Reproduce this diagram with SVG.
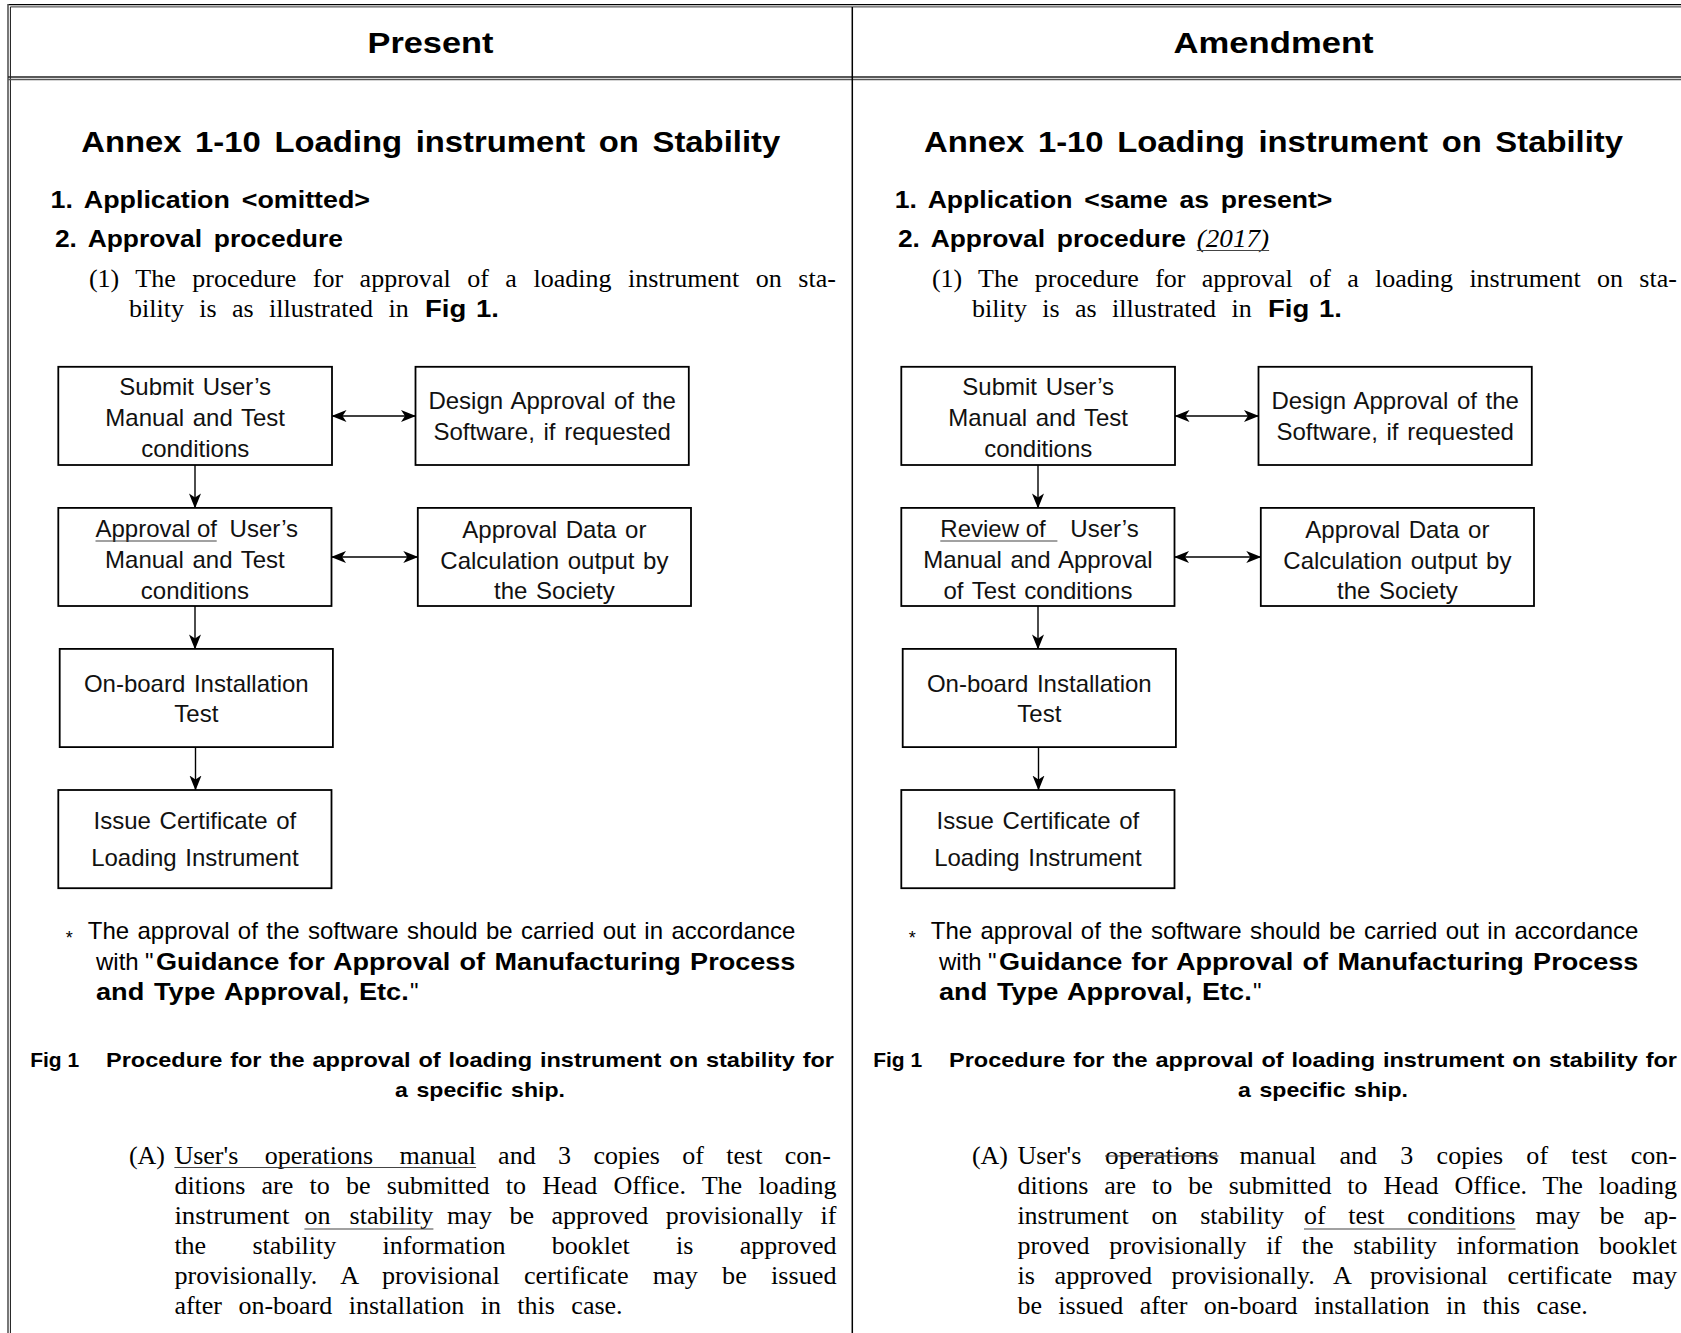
<svg xmlns="http://www.w3.org/2000/svg" width="1681" height="1333" viewBox="0 0 1681 1333">
<defs>
<style>
.sn{font-family:"Liberation Sans",Arial,sans-serif;fill:#000}
.b{font-weight:bold}
.sr{font-family:"Liberation Serif","Times New Roman",serif;fill:#000;font-size:26px}
.box{fill:#fff;stroke:#000;stroke-width:1.8}
.bt{font-family:"Liberation Sans",Arial,sans-serif;font-size:24px;text-anchor:middle;word-spacing:2px;fill:#111}
.btl{font-family:"Liberation Sans",Arial,sans-serif;font-size:24px;fill:#111}
.conn path{fill:none;stroke:#000;stroke-width:1.4}
.ul{stroke:#444;stroke-width:1.2}
.frame{stroke-linecap:butt}
</style>
<marker id="ah" markerUnits="userSpaceOnUse" markerWidth="16" markerHeight="14" viewBox="0 0 16 14" refX="14.5" refY="7" orient="auto-start-reverse">
<path d="M0,1 L15,7 L0,13 L4,7 z" fill="#000"/>
</marker>
</defs>
<rect width="1681" height="1333" fill="#fff"/>

<g id="table-frame" class="frame">
<line x1="8" y1="4.6" x2="1681" y2="4.6" stroke="#000" stroke-width="1.3"/>
<line x1="10.4" y1="6.9" x2="1681" y2="6.9" stroke="#333" stroke-width="1"/>
<line x1="8" y1="4" x2="8" y2="1333" stroke="#555" stroke-width="1.6"/>
<line x1="10.4" y1="6.9" x2="10.4" y2="1333" stroke="#111" stroke-width="1"/>
<line x1="8" y1="77" x2="1681" y2="77" stroke="#222" stroke-width="1.5"/>
<line x1="8" y1="79.5" x2="1681" y2="79.5" stroke="#555" stroke-width="1.3"/>
<line x1="852.3" y1="6.9" x2="852.3" y2="1333" stroke="#000" stroke-width="1.5"/>
</g>

<g id="header">
<text class="sn b" font-size="30" x="367.5" y="53" textLength="126" lengthAdjust="spacingAndGlyphs">Present</text>
<text class="sn b" font-size="30" x="1173.6" y="53" textLength="200" lengthAdjust="spacingAndGlyphs">Amendment</text>
</g>

<g id="present-text">
<text class="sn b" font-size="29" x="81.2" y="152" word-spacing="4" textLength="699" lengthAdjust="spacingAndGlyphs">Annex 1-10 Loading instrument on Stability</text>
<text class="sn b" font-size="24" x="50.5" y="208" word-spacing="4" textLength="319.5" lengthAdjust="spacingAndGlyphs">1. Application &lt;omitted&gt;</text>
<text class="sn b" font-size="24" x="54.9" y="247" word-spacing="4" textLength="288" lengthAdjust="spacingAndGlyphs">2. Approval procedure</text>
<text class="sr" x="88.9" y="287" word-spacing="10" textLength="747" lengthAdjust="spacingAndGlyphs">(1) The procedure for approval of a loading instrument on sta-</text>
<text class="sr" x="129" y="317" word-spacing="8.9" textLength="279.7" lengthAdjust="spacingAndGlyphs">bility is as illustrated in</text>
<text class="sn b" font-size="24" x="425" y="317" word-spacing="2" textLength="74" lengthAdjust="spacingAndGlyphs">Fig 1.</text>

<text class="sn" font-size="18" x="65.8" y="944">*</text>
<text class="sn" font-size="24" x="87.8" y="939" word-spacing="1.7" textLength="707.6" lengthAdjust="spacingAndGlyphs">The approval of the software should be carried out in accordance</text>
<text class="sn" font-size="24" x="96" y="970">with</text>
<text class="sn" font-size="24" x="145" y="970">"</text>
<text class="sn b" font-size="24" x="156" y="970" word-spacing="1.6" textLength="639.4" lengthAdjust="spacingAndGlyphs">Guidance for Approval of Manufacturing Process</text>
<text class="sn b" font-size="24" x="96" y="1000" word-spacing="1.9" textLength="312.7" lengthAdjust="spacingAndGlyphs">and Type Approval, Etc.</text>
<text class="sn" font-size="24" x="410" y="1000">"</text>

<text class="sn b" font-size="21" x="30.2" y="1067">Fig 1</text>
<text class="sn b" font-size="21" x="106" y="1067" word-spacing="1.2" textLength="728" lengthAdjust="spacingAndGlyphs">Procedure for the approval of loading instrument on stability for</text>
<text class="sn b" font-size="21" x="395" y="1097" word-spacing="2" textLength="170" lengthAdjust="spacingAndGlyphs">a specific ship.</text>

<text class="sr" x="128.9" y="1163.5" textLength="36" lengthAdjust="spacingAndGlyphs">(A)</text>
<text class="sr" x="174.4" y="1163.5" word-spacing="20" textLength="301.7" lengthAdjust="spacingAndGlyphs">User's operations manual</text>
<line class="ul" x1="174.4" y1="1167.5" x2="476.1" y2="1167.5"/>
<text class="sr" x="498.1" y="1163.5" word-spacing="15.9" textLength="332.9" lengthAdjust="spacingAndGlyphs">and 3 copies of test con-</text>
<text class="sr" x="174.4" y="1193.5" word-spacing="9.7" textLength="662.1" lengthAdjust="spacingAndGlyphs">ditions are to be submitted to Head Office. The loading</text>
<text class="sr" x="174.4" y="1223.5" textLength="115.2" lengthAdjust="spacingAndGlyphs">instrument</text>
<text class="sr" x="304.4" y="1223.5" word-spacing="12.6" textLength="129" lengthAdjust="spacingAndGlyphs">on stability</text>
<line class="ul" x1="304.4" y1="1229" x2="433.4" y2="1229"/>
<text class="sr" x="447.1" y="1223.5" word-spacing="11" textLength="389.4" lengthAdjust="spacingAndGlyphs">may be approved provisionally if</text>
<text class="sr" x="174.4" y="1253.5" word-spacing="39.8" textLength="662.1" lengthAdjust="spacingAndGlyphs">the stability information booklet is approved</text>
<text class="sr" x="174.4" y="1283.5" word-spacing="17.6" textLength="662.1" lengthAdjust="spacingAndGlyphs">provisionally. A provisional certificate may be issued</text>
<text class="sr" x="174.4" y="1313.5" word-spacing="9.9" textLength="448.2" lengthAdjust="spacingAndGlyphs">after on-board installation in this case.</text>
</g>

<g id="amendment-text">
<text class="sn b" font-size="29" x="924" y="152" word-spacing="4" textLength="699" lengthAdjust="spacingAndGlyphs">Annex 1-10 Loading instrument on Stability</text>
<text class="sn b" font-size="24" x="894.7" y="208" word-spacing="4" textLength="437.7" lengthAdjust="spacingAndGlyphs">1. Application &lt;same as present&gt;</text>
<text class="sn b" font-size="24" x="897.9" y="247" word-spacing="4" textLength="288" lengthAdjust="spacingAndGlyphs">2. Approval procedure</text>
<text class="sr" font-style="italic" x="1196.7" y="247" textLength="72.4" lengthAdjust="spacingAndGlyphs">(2017)</text>
<line class="ul" x1="1196.7" y1="250.5" x2="1269.1" y2="250.5"/>
<text class="sr" x="931.9" y="287" word-spacing="9.8" textLength="745" lengthAdjust="spacingAndGlyphs">(1) The procedure for approval of a loading instrument on sta-</text>
<text class="sr" x="972" y="317" word-spacing="8.9" textLength="279.7" lengthAdjust="spacingAndGlyphs">bility is as illustrated in</text>
<text class="sn b" font-size="24" x="1268" y="317" word-spacing="2" textLength="74" lengthAdjust="spacingAndGlyphs">Fig 1.</text>

<text class="sn" font-size="18" x="908.8" y="944">*</text>
<text class="sn" font-size="24" x="930.8" y="939" word-spacing="1.7" textLength="707.6" lengthAdjust="spacingAndGlyphs">The approval of the software should be carried out in accordance</text>
<text class="sn" font-size="24" x="939" y="970">with</text>
<text class="sn" font-size="24" x="988" y="970">"</text>
<text class="sn b" font-size="24" x="999" y="970" word-spacing="1.6" textLength="639.4" lengthAdjust="spacingAndGlyphs">Guidance for Approval of Manufacturing Process</text>
<text class="sn b" font-size="24" x="939" y="1000" word-spacing="1.9" textLength="312.7" lengthAdjust="spacingAndGlyphs">and Type Approval, Etc.</text>
<text class="sn" font-size="24" x="1253" y="1000">"</text>

<text class="sn b" font-size="21" x="873.2" y="1067">Fig 1</text>
<text class="sn b" font-size="21" x="949" y="1067" word-spacing="1.2" textLength="728" lengthAdjust="spacingAndGlyphs">Procedure for the approval of loading instrument on stability for</text>
<text class="sn b" font-size="21" x="1238" y="1097" word-spacing="2" textLength="170" lengthAdjust="spacingAndGlyphs">a specific ship.</text>

<text class="sr" x="971.9" y="1163.5" textLength="36" lengthAdjust="spacingAndGlyphs">(A)</text>
<text class="sr" x="1017.4" y="1163.5" textLength="64" lengthAdjust="spacingAndGlyphs">User's</text>
<text class="sr" x="1105" y="1163.5" textLength="113.6" lengthAdjust="spacingAndGlyphs">operations</text>
<line class="ul" x1="1105" y1="1156" x2="1218.6" y2="1156"/>
<text class="sr" x="1239.6" y="1163.5" word-spacing="16.8" textLength="437.4" lengthAdjust="spacingAndGlyphs">manual and 3 copies of test con-</text>
<text class="sr" x="1017.4" y="1193.5" word-spacing="9.4" textLength="659.6" lengthAdjust="spacingAndGlyphs">ditions are to be submitted to Head Office. The loading</text>
<text class="sr" x="1017.4" y="1223.5" word-spacing="16.3" textLength="266.6" lengthAdjust="spacingAndGlyphs">instrument on stability</text>
<text class="sr" x="1304" y="1223.5" word-spacing="16.2" textLength="211.5" lengthAdjust="spacingAndGlyphs">of test conditions</text>
<line class="ul" x1="1304" y1="1229" x2="1515.5" y2="1229"/>
<text class="sr" x="1535.4" y="1223.5" word-spacing="13" textLength="141.6" lengthAdjust="spacingAndGlyphs">may be ap-</text>
<text class="sr" x="1017.4" y="1253.5" word-spacing="13.2" textLength="659.6" lengthAdjust="spacingAndGlyphs">proved provisionally if the stability information booklet</text>
<text class="sr" x="1017.4" y="1283.5" word-spacing="13" textLength="659.6" lengthAdjust="spacingAndGlyphs">is approved provisionally. A provisional certificate may</text>
<text class="sr" x="1017.4" y="1313.5" word-spacing="9.9" textLength="570.4" lengthAdjust="spacingAndGlyphs">be issued after on-board installation in this case.</text>
</g>

<g id="connectors" class="conn">
<path d="M332,416 H415.5" marker-start="url(#ah)" marker-end="url(#ah)"/>
<path d="M331.5,557 H417.8" marker-start="url(#ah)" marker-end="url(#ah)"/>
<path d="M195,465 V507.9" marker-end="url(#ah)"/>
<path d="M195,606 V648.9" marker-end="url(#ah)"/>
<path d="M195.5,747.1 V790" marker-end="url(#ah)"/>
<path d="M1175,416 H1258.5" marker-start="url(#ah)" marker-end="url(#ah)"/>
<path d="M1174.5,557 H1260.8" marker-start="url(#ah)" marker-end="url(#ah)"/>
<path d="M1038,465 V507.9" marker-end="url(#ah)"/>
<path d="M1038,606 V648.9" marker-end="url(#ah)"/>
<path d="M1038.5,747.1 V790" marker-end="url(#ah)"/>
</g>

<g id="p-submit">
<rect class="box" x="58.3" y="366.8" width="273.7" height="98.2"/>
<text class="bt" x="195.2" y="395">Submit User’s</text>
<text class="bt" x="195.2" y="426">Manual and Test</text>
<text class="bt" x="195.2" y="457">conditions</text>
</g>
<g id="p-design">
<rect class="box" x="415.5" y="366.8" width="273.3" height="98.2"/>
<text class="bt" x="552.2" y="409">Design Approval of the</text>
<text class="bt" x="552.2" y="440">Software, if requested</text>
</g>
<g id="p-approval">
<rect class="box" x="58.3" y="507.9" width="273.2" height="98.1"/>
<text class="btl" y="537"><tspan x="95.5">Approval of</tspan> <tspan x="229.6">User’s</tspan></text>
<line class="ul" x1="95.5" y1="541" x2="216.7" y2="541"/>
<text class="bt" x="194.9" y="568">Manual and Test</text>
<text class="bt" x="194.9" y="599">conditions</text>
</g>
<g id="p-data">
<rect class="box" x="417.8" y="507.9" width="273.2" height="98.1"/>
<text class="bt" x="554.4" y="537.5">Approval Data or</text>
<text class="bt" x="554.4" y="568.5">Calculation output by</text>
<text class="bt" x="554.4" y="599">the Society</text>
</g>
<g id="p-onboard">
<rect class="box" x="59.7" y="648.9" width="273.2" height="98.2"/>
<text class="bt" x="196.3" y="692">On-board Installation</text>
<text class="bt" x="196.3" y="722">Test</text>
</g>
<g id="p-issue">
<rect class="box" x="58.3" y="790" width="273.2" height="98.2"/>
<text class="bt" x="194.9" y="829">Issue Certificate of</text>
<text class="bt" x="194.9" y="866">Loading Instrument</text>
</g>

<g id="a-submit">
<rect class="box" x="901.3" y="366.8" width="273.7" height="98.2"/>
<text class="bt" x="1038.2" y="395">Submit User’s</text>
<text class="bt" x="1038.2" y="426">Manual and Test</text>
<text class="bt" x="1038.2" y="457">conditions</text>
</g>
<g id="a-design">
<rect class="box" x="1258.5" y="366.8" width="273.3" height="98.2"/>
<text class="bt" x="1395.2" y="409">Design Approval of the</text>
<text class="bt" x="1395.2" y="440">Software, if requested</text>
</g>
<g id="a-review">
<rect class="box" x="901.3" y="507.9" width="273.2" height="98.1"/>
<text class="btl" y="537"><tspan x="940.3">Review of</tspan> <tspan x="1070.3">User’s</tspan></text>
<line class="ul" x1="940.3" y1="541" x2="1057.4" y2="541"/>
<text class="bt" x="1037.9" y="568">Manual and Approval</text>
<text class="bt" x="1037.9" y="599">of Test conditions</text>
</g>
<g id="a-data">
<rect class="box" x="1260.8" y="507.9" width="273.2" height="98.1"/>
<text class="bt" x="1397.4" y="537.5">Approval Data or</text>
<text class="bt" x="1397.4" y="568.5">Calculation output by</text>
<text class="bt" x="1397.4" y="599">the Society</text>
</g>
<g id="a-onboard">
<rect class="box" x="902.7" y="648.9" width="273.2" height="98.2"/>
<text class="bt" x="1039.3" y="692">On-board Installation</text>
<text class="bt" x="1039.3" y="722">Test</text>
</g>
<g id="a-issue">
<rect class="box" x="901.3" y="790" width="273.2" height="98.2"/>
<text class="bt" x="1037.9" y="829">Issue Certificate of</text>
<text class="bt" x="1037.9" y="866">Loading Instrument</text>
</g>
</svg>
